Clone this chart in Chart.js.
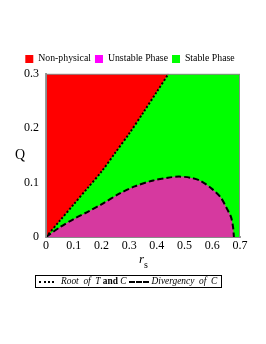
<!DOCTYPE html>
<html>
<head>
<meta charset="utf-8">
<script src="https://cdn.jsdelivr.net/npm/chart.js@4.4.0/dist/chart.umd.min.js"></script>
<style>
    html, body { margin: 0; padding: 0; background: #ffffff; }
    #wrap { position: relative; width: 266px; height: 344px; font-family: "Liberation Serif", serif; }
    #phaseChart { position: absolute; left: 0; top: 0; }
    .lbl { position: absolute; color: #000; font-family: "Liberation Serif", serif; }
    #qLabel { left: 15px; top: 147px; font-size: 14px; }
    #rLabel { left: 139px; top: 251px; font-size: 13px; font-style: italic; }
    #rLabel sub { font-style: normal; font-size: 10px; position: relative; top: 1px; }
    #lineLegend {
        position: absolute; left: 35px; top: 275px; width: 187px; height: 13px;
        border: 1px solid #000; box-sizing: border-box; font-size: 9.4px; line-height: 11px;
        white-space: nowrap; font-style: italic; overflow: hidden;
    }
    .sample { display: inline-block; height: 0; vertical-align: middle; }
    #dotSample { border-top: 2px dotted #000; width: 15px; margin: 0 7px 0 3px; }
    #dashSample { border-top: 2px dashed #000; width: 20px; margin: 0 3px 0 2px; }
    #lineLegend b { font-style: normal; }
</style>
</head>
<body>
<div id="wrap">
    <canvas id="phaseChart" width="266" height="344"></canvas>
    <div class="lbl" id="qLabel">Q</div>
    <div class="lbl" id="rLabel">r<sub>s</sub></div>
    <div id="lineLegend"><span class="sample" id="dotSample"></span>Root&nbsp; of&nbsp; T <b>and</b> C<span class="sample" id="dashSample"></span>Divergency&nbsp; of&nbsp; C</div>
</div>
<script>
// root of T and C (dotted boundary)
const rootR = [0, 0.05, 0.1, 0.15, 0.2, 0.25, 0.3, 0.35, 0.4, 0.442];
const rootQ = [0, 0.03, 0.06, 0.09, 0.12, 0.155, 0.19, 0.228, 0.267, 0.3];

// divergency of C (dashed boundary)
const divR = [0, 0.05, 0.1, 0.157, 0.2, 0.266, 0.32, 0.387, 0.44, 0.48, 0.52, 0.558, 0.6, 0.63, 0.655, 0.668, 0.675, 0.678];
const divQ = [0, 0.018, 0.033, 0.048, 0.06, 0.08, 0.093, 0.104, 0.109, 0.111, 0.109, 0.103, 0.088, 0.073, 0.05, 0.036, 0.018, 0];

// full domain for the stable background
const domainR = [0, 0.7];
const domainQ = [0.3, 0.3];

const xTicks = [0, 0.1, 0.2, 0.3, 0.4, 0.5, 0.6, 0.7];
const yTicks = [0, 0.1, 0.2, 0.3];

const toPoints = (xs, ys) => xs.map((x, i) => ({ x: x, y: ys[i] }));

const framePlugin = {
    id: "frame",
    afterDatasetsDraw: function (chart) {
        const a = chart.chartArea;
        const c = chart.ctx;
        c.save();
        c.strokeStyle = "#8a8a8a";
        c.lineWidth = 1;
        c.strokeRect(a.left + 0.5, a.top + 0.5, a.right - a.left - 1, a.bottom - a.top);
        c.restore();
    },
};

const ctx = document.getElementById("phaseChart").getContext("2d");
new Chart(ctx, {
    type: "line",
    data: {
        datasets: [
            {
                label: "Non-physical",
                data: toPoints(rootR, rootQ),
                fill: "end",
                backgroundColor: "#ff0000",
                borderColor: "#ff0000",
                borderWidth: 0,
                pointRadius: 0,
                tension: 0.3,
                order: 1,
            },
            {
                label: "Unstable Phase",
                data: toPoints(divR, divQ),
                fill: "origin",
                backgroundColor: "#d6399f",
                borderColor: "#ff00ff",
                borderWidth: 0,
                pointRadius: 0,
                tension: 0.3,
                order: 2,
            },
            {
                label: "Stable Phase",
                data: toPoints(domainR, domainQ),
                fill: "origin",
                backgroundColor: "#00ff00",
                borderColor: "#00ff00",
                borderWidth: 0,
                pointRadius: 0,
                order: 3,
            },
            {
                label: "Root of T and C",
                data: toPoints(rootR, rootQ),
                fill: false,
                borderColor: "#000000",
                borderWidth: 2,
                borderDash: [2, 2],
                pointRadius: 0,
                tension: 0.3,
                order: 0,
            },
            {
                label: "Divergency of C",
                data: toPoints(divR, divQ),
                fill: false,
                borderColor: "#000000",
                borderWidth: 2,
                borderDash: [6, 3],
                pointRadius: 0,
                tension: 0.3,
                order: 0,
            },
        ],
    },
    options: {
        responsive: false,
        animation: false,
        layout: {
            padding: { left: 0, right: 6, top: 50, bottom: 0 },
        },
        plugins: {
            legend: {
                position: "top",
                labels: {
                    boxWidth: 8,
                    boxHeight: 8,
                    padding: 4,
                    color: "#000",
                    font: { family: "Liberation Serif", size: 9.8 },
                    generateLabels: function (chart) {
                        return chart.data.datasets.slice(0, 3).map((ds, i) => ({
                            text: ds.label,
                            fillStyle: i === 1 ? "#ff00ff" : ds.backgroundColor,
                            strokeStyle: i === 1 ? "#ff00ff" : ds.backgroundColor,
                            lineWidth: 0,
                            datasetIndex: i,
                        }));
                    },
                },
            },
            tooltip: { enabled: false },
        },
        scales: {
            x: {
                type: "linear",
                min: 0,
                max: 0.7,
                afterBuildTicks: (axis) => { axis.ticks = xTicks.map((v) => ({ value: v })); },
                afterFit: (axis) => { axis.height = 107; },
                ticks: {
                    color: "#000",
                    padding: 2,
                    font: { family: "Liberation Serif", size: 12 },
                    callback: (v) => String(v),
                },
                grid: { display: false, drawTicks: false },
                border: { color: "#9a9a9a", width: 2 },
            },
            y: {
                type: "linear",
                min: 0,
                max: 0.3,
                afterBuildTicks: (axis) => { axis.ticks = yTicks.map((v) => ({ value: v })); },
                afterFit: (axis) => { axis.width = 46; },
                ticks: {
                    color: "#000",
                    padding: 4,
                    font: { family: "Liberation Serif", size: 12 },
                    callback: (v) => String(v),
                },
                grid: { display: false, drawTicks: true, tickLength: 3, tickColor: "#9a9a9a" },
                border: { color: "#9a9a9a", width: 2 },
            },
            yRight: {
                type: "linear",
                position: "right",
                min: 0,
                max: 0.3,
                afterFit: (axis) => { axis.width = 20; },
                ticks: { display: false },
                grid: { display: false, drawTicks: false },
                border: { display: false },
            },
        },
    },
    plugins: [framePlugin],
});
</script>
</body>
</html>
